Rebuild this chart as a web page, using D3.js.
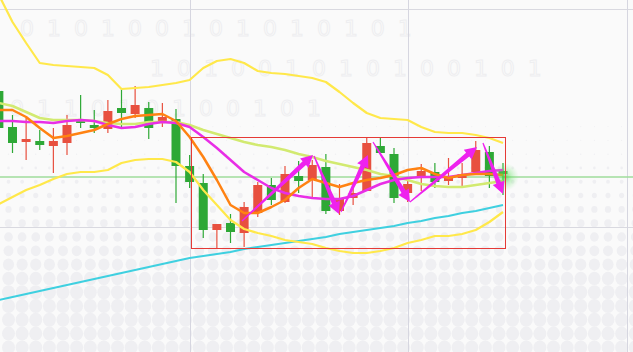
<!DOCTYPE html>
<html lang="en">
<head>
<meta charset="UTF-8">
<title>Candles</title>
<script src="https://cdn.jsdelivr.net/npm/d3@7/dist/d3.min.js"></script>
<style>
  body { margin: 0; background: #fafafa; overflow: hidden; }
  svg { display: block; }
</style>
</head>
<body>
<script>
// candles (red = up, green = down)
var opens  = [1.0909,1.0873,1.0858,1.0859,1.0854,1.0857,1.0879,1.0875,1.0871,1.0892,1.0886,1.0892,1.0877,1.0881,1.0834,1.0817,1.0770,1.0777,1.0767,1.0787,1.0815,1.0798,1.0824,1.0820,1.0833,1.0789,1.0802,1.0809,1.0854,1.0846,1.0807,1.0822,1.0828,1.0819,1.0822,1.0828,1.0848,1.0829];
var highs  = [1.0912,1.0885,1.0882,1.0870,1.0872,1.0885,1.0905,1.0890,1.0900,1.0912,1.0914,1.0898,1.0897,1.0891,1.0845,1.0826,1.0776,1.0786,1.0798,1.0818,1.0822,1.0834,1.0839,1.0840,1.0846,1.0816,1.0816,1.0863,1.0862,1.0852,1.0822,1.0836,1.0837,1.0842,1.0837,1.0859,1.0854,1.0837];
var lows   = [1.0869,1.0847,1.0840,1.0850,1.0827,1.0845,1.0872,1.0867,1.0867,1.0871,1.0882,1.0861,1.0873,1.0797,1.0812,1.0762,1.0752,1.0757,1.0753,1.0783,1.0795,1.0797,1.0807,1.0803,1.0786,1.0785,1.0795,1.0809,1.0847,1.0797,1.0798,1.0809,1.0812,1.0815,1.0812,1.0828,1.0812,1.0805];
var closes = [1.0872,1.0857,1.0861,1.0855,1.0859,1.0875,1.0877,1.0872,1.0889,1.0887,1.0895,1.0872,1.0883,1.0834,1.0818,1.0770,1.0776,1.0768,1.0793,1.0815,1.0800,1.0826,1.0819,1.0835,1.0789,1.0801,1.0807,1.0857,1.0847,1.0802,1.0816,1.0829,1.0818,1.0824,1.0826,1.0850,1.0824,1.0826];

// moving averages
var maFast = [1.0890,1.0890,1.0883,1.0872,1.0862,1.0864,1.0867,1.0870,1.0876,1.0881,1.0884,1.0885,1.0886,1.0879,1.0863,1.0843,1.0820,1.0795,1.0787,1.0787,1.0793,1.0800,1.0812,1.0821,1.0817,1.0813,1.0817,1.0820,1.0822,1.0825,1.0830,1.0832,1.0826,1.0822,1.0825,1.0826,1.0826,1.0825];
var maMid  = [1.0879,1.0879,1.0878,1.0878,1.0877,1.0879,1.0880,1.0879,1.0875,1.0872,1.0873,1.0876,1.0878,1.0877,1.0873,1.0863,1.0852,1.0840,1.0828,1.0820,1.0812,1.0807,1.0804,1.0802,1.0801,1.0801,1.0804,1.0810,1.0816,1.0820,1.0822,1.0823,1.0823,1.0823,1.0825,1.0827,1.0829,1.0830];
var maSlow = [1.0897,1.0894,1.0888,1.0882,1.0880,1.0880,1.0880,1.0879,1.0877,1.0876,1.0876,1.0878,1.0878,1.0878,1.0875,1.0870,1.0866,1.0862,1.0858,1.0855,1.0853,1.0850,1.0846,1.0843,1.0839,1.0836,1.0833,1.0830,1.0826,1.0824,1.0820,1.0816,1.0814,1.0813,1.0813,1.0815,1.0817,1.0819];
var maLong = [1.0700,1.0703,1.0706,1.0709,1.0712,1.0715,1.0718,1.0721,1.0724,1.0727,1.0730,1.0733,1.0736,1.0739,1.0742,1.0744,1.0746,1.0748,1.0751,1.0753,1.0755,1.0757,1.0759,1.0761,1.0763,1.0766,1.0768,1.0770,1.0772,1.0774,1.0777,1.0779,1.0782,1.0784,1.0787,1.0789,1.0792,1.0795];

// bollinger bands
var bandUpper = [1.1005,1.0978,1.0957,1.0937,1.0935,1.0934,1.0933,1.0932,1.0925,1.0911,1.0912,1.0913,1.0915,1.0917,1.0920,1.0932,1.0939,1.0941,1.0937,1.0929,1.0927,1.0926,1.0924,1.0922,1.0918,1.0908,1.0897,1.0887,1.0882,1.0881,1.0880,1.0873,1.0868,1.0867,1.0867,1.0865,1.0862,1.0857];
var bandLower = [1.0796,1.0803,1.0810,1.0815,1.0821,1.0826,1.0828,1.0828,1.0830,1.0837,1.0840,1.0841,1.0841,1.0838,1.0828,1.0810,1.0795,1.0780,1.0771,1.0767,1.0764,1.0760,1.0758,1.0756,1.0752,1.0749,1.0747,1.0747,1.0749,1.0752,1.0757,1.0760,1.0764,1.0764,1.0766,1.0770,1.0778,1.0788];

var lastPrice = 1.0823;
var gridPrices = [1.0991, 1.0773];
var gridIdx = [14.03, 30.03, 46.1];

// range box and zigzag arrows [fromIdx, fromPrice, toIdx, toPrice]
var boxIdx = [14.1, 37.15];
var boxPrice = [1.0863, 1.0752];
var arrows = [
  [17.84, 1.0779, 23.06, 1.0845],
  [23.13, 1.0844, 24.96, 1.0786],
  [25.11, 1.0788, 27.09, 1.0845],
  [27.46, 1.0858, 30.17, 1.0798],
  [30.17, 1.0798, 35.09, 1.0853],
  [35.53, 1.0857, 37.00, 1.0806]
];

var w = 633, h = 352;

var svg = d3.select("body").append("svg")
  .attr("width", w)
  .attr("height", h);

var xScale = d3.scaleLinear().domain([0, 37]).range([-1.125, 503]);
var yScale = d3.scaleLinear().domain([1.1, 1.0648]).range([0, h]);
var step = xScale(1) - xScale(0);

var defs = svg.append("defs");
var glow = defs.append("radialGradient").attr("id", "glow");
glow.append("stop").attr("offset", "0%").attr("stop-color", "#39d339").attr("stop-opacity", 0.75);
glow.append("stop").attr("offset", "45%").attr("stop-color", "#5fe05f").attr("stop-opacity", 0.35);
glow.append("stop").attr("offset", "100%").attr("stop-color", "#8fe88f").attr("stop-opacity", 0);

svg.append("rect").attr("width", w).attr("height", h).attr("fill", "#fafafa");

// dotted backdrop, dots grow toward the bottom
var rScale = d3.scaleLinear().domain([150, 285]).range([0.5, 6.5]).clamp(true);
var rows = d3.range(-8, 9).map(k => 237 + 13.8 * k);
var cols = d3.range(0, 47).map(k => 8.5 + step * k);
var dots = [];
rows.forEach(y => cols.forEach(x => dots.push([x, y])));
svg.append("g").selectAll("ellipse")
  .data(dots)
  .enter()
  .append("ellipse")
  .attr("cx", d => d[0])
  .attr("cy", d => d[1])
  .attr("rx", d => rScale(d[1]))
  .attr("ry", d => rScale(d[1]) * 1.08)
  .attr("fill", "#efeff2");

// faint binary watermark
var marks = [
  ["0 1 0 1 0 0 1 0 1 0 1 0 1 0 1", 20, 36, 22],
  ["1 0 1 0 0 1 0 1 0 1 0 0 1 0 1", 150, 76, 22],
  ["0 1 1 0 1 0 1 0 0 1 0 1", 10, 116, 22]
];
svg.append("g").selectAll("text")
  .data(marks)
  .enter()
  .append("text")
  .attr("x", d => d[1])
  .attr("y", d => d[2])
  .attr("font-family", "DejaVu Sans")
  .attr("font-size", d => d[3])
  .attr("fill", "none")
  .attr("stroke", "#eeeef0")
  .attr("stroke-width", 1)
  .attr("letter-spacing", 3)
  .text(d => d[0]);

// grid
svg.append("g").selectAll("line.h")
  .data(gridPrices)
  .enter()
  .append("line")
  .attr("x1", 0).attr("x2", w)
  .attr("y1", d => Math.round(yScale(d)) + 0.5)
  .attr("y2", d => Math.round(yScale(d)) + 0.5)
  .attr("stroke", "#d9d9e0");
svg.append("g").selectAll("line.v")
  .data(gridIdx)
  .enter()
  .append("line")
  .attr("x1", d => Math.round(xScale(d)) + 0.5)
  .attr("x2", d => Math.round(xScale(d)) + 0.5)
  .attr("y1", 0).attr("y2", h)
  .attr("stroke", "#d6d6e0");

// current price line
svg.append("line")
  .attr("x1", 0).attr("x2", w)
  .attr("y1", yScale(lastPrice)).attr("y2", yScale(lastPrice))
  .attr("stroke", "#9fdc9b")
  .attr("stroke-width", 1.5);

// candles
var candles = d3.range(opens.length).map(i => ({
  i: i, o: opens[i], h: highs[i], l: lows[i], c: closes[i]
}));
var cg = svg.append("g").selectAll("g")
  .data(candles)
  .enter()
  .append("g");
var candleColor = d => d.c >= d.o ? "#e8503f" : "#2ea836";
cg.append("line")
  .attr("x1", d => xScale(d.i))
  .attr("x2", d => xScale(d.i))
  .attr("y1", d => yScale(d.h))
  .attr("y2", d => yScale(d.l))
  .attr("stroke", candleColor)
  .attr("stroke-width", 1.2);
cg.append("rect")
  .attr("x", d => xScale(d.i) - 4.5)
  .attr("width", 9)
  .attr("y", d => yScale(Math.max(d.o, d.c)))
  .attr("height", d => Math.max(1.5, Math.abs(yScale(d.o) - yScale(d.c))))
  .attr("fill", candleColor);

// indicator lines
var line = d3.line().x((d, i) => xScale(i)).y(d => yScale(d));
var series = [
  [maLong, "#3fd0e0", 2],
  [bandUpper, "#ffe84a", 2.2],
  [bandLower, "#ffe84a", 2.2],
  [maSlow, "#d2ea70", 2.5],
  [maMid, "#e82ee6", 2.5],
  [maFast, "#ff8212", 2.5]
];
svg.append("g").selectAll("path")
  .data(series)
  .enter()
  .append("path")
  .attr("d", d => line(d[0]))
  .attr("fill", "none")
  .attr("stroke", d => d[1])
  .attr("stroke-width", d => d[2])
  .attr("stroke-linejoin", "round");

// glow at last price
svg.append("circle")
  .attr("cx", xScale(37) + 2)
  .attr("cy", yScale(lastPrice))
  .attr("r", 14)
  .attr("fill", "url(#glow)");

// range box
var bx0 = Math.round(xScale(boxIdx[0])) + 0.5, bx1 = Math.round(xScale(boxIdx[1])) + 0.5;
var by0 = Math.round(yScale(boxPrice[0])) + 0.5, by1 = Math.round(yScale(boxPrice[1])) + 0.5;
svg.append("rect")
  .attr("x", bx0)
  .attr("y", by0)
  .attr("width", bx1 - bx0)
  .attr("height", by1 - by0)
  .attr("fill", "none")
  .attr("stroke", "#e53a36")
  .attr("stroke-width", 1);

// tapered arrows
function arrowPath(a) {
  var x0 = xScale(a[0]), y0 = yScale(a[1]), x1 = xScale(a[2]), y1 = yScale(a[3]);
  var dx = x1 - x0, dy = y1 - y0, len = Math.sqrt(dx * dx + dy * dy);
  var ux = dx / len, uy = dy / len, nx = -uy, ny = ux;
  var head = 12, hw = 6.2, w0 = 0.6, w1 = 2.5;
  var bx = x1 - ux * head, by = y1 - uy * head;
  var pts = [
    [x0 + nx * w0, y0 + ny * w0],
    [bx + nx * w1, by + ny * w1],
    [bx + nx * hw, by + ny * hw],
    [x1, y1],
    [bx - nx * hw, by - ny * hw],
    [bx - nx * w1, by - ny * w1],
    [x0 - nx * w0, y0 - ny * w0]
  ];
  return "M" + pts.map(p => p[0].toFixed(1) + "," + p[1].toFixed(1)).join("L") + "Z";
}
svg.append("g").selectAll("path")
  .data(arrows)
  .enter()
  .append("path")
  .attr("d", arrowPath)
  .attr("fill", "#ee22ee");
</script>
</body>
</html>
